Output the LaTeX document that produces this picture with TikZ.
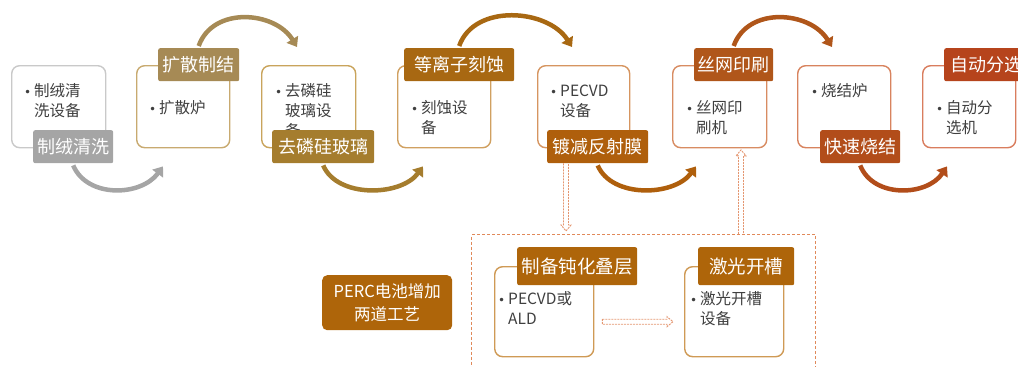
\documentclass[tikz,border=0pt]{standalone}
\usepackage{fontspec}
\setmainfont{Noto Sans CJK SC}
\newfontfamily\dejavu{DejaVu Sans}
\usetikzlibrary{arrows.meta,calc}
\definecolor{textgray}{HTML}{3F3F3F}
\definecolor{c1l}{HTML}{A5A5A5}\definecolor{c1b}{HTML}{C9C9C9}
\definecolor{c2l}{HTML}{A68A55}\definecolor{c2b}{HTML}{C8AA70}
\definecolor{c3l}{HTML}{A57D2E}\definecolor{c3b}{HTML}{C9A45C}
\definecolor{c4l}{HTML}{A86812}\definecolor{c4b}{HTML}{D0A060}
\definecolor{c5l}{HTML}{AF5F0C}\definecolor{c5b}{HTML}{D69560}
\definecolor{c6l}{HTML}{B0561A}\definecolor{c6b}{HTML}{D88C62}
\definecolor{c7l}{HTML}{B24D1A}\definecolor{c7b}{HTML}{D8835E}
\definecolor{c8l}{HTML}{B6441C}\definecolor{c8b}{HTML}{D97D5E}
\definecolor{cpl}{HTML}{AE650A}\definecolor{cpb}{HTML}{CF9A55}
\definecolor{cdash}{HTML}{E0895A}\definecolor{cdarr}{HTML}{E49670}
\newcommand{\mybul}{\makebox[10pt][l]{\dejavu\fontsize{12}{12}\selectfont •}}
\newcommand{\myind}{\hspace*{10pt}}
\begin{document}
\begin{tikzpicture}[x=1pt,y=-1pt,
  box/.style={draw, line width=1.4pt, rounded corners=8pt, fill=white, anchor=north west, inner sep=0pt, minimum height=82pt},
  ibox/.style={box, draw=cpb, minimum width=99pt, minimum height=90pt},
  lab/.style={anchor=north west, inner sep=0pt, text=white, rounded corners=2pt, font=\fontsize{18}{20}\selectfont, minimum height=33pt},
  ilab/.style={lab, fill=cpl, minimum height=38pt, font=\fontsize{18.5}{20}\selectfont},
  txt/.style={anchor=base west, align=left, inner sep=0pt, text=textgray, font=\fontsize{15.5}{20}\selectfont},
  arr/.style={line width=4.5pt, -{Triangle[length=9pt,width=13pt]}},
  darr/.style={draw=cdarr, line width=0.9pt, dash pattern=on 2pt off 1pt, line join=miter},
]
\useasboundingbox (0,0) rectangle (1018,367);
\clip (0,0) rectangle (1018,367);

% boxes
\node[box, draw=c1b, minimum width=94pt] (b1) at (11,65) {};
\node[box, draw=c2b, minimum width=93pt] (b2) at (136,65) {};
\node[box, draw=c3b, minimum width=94pt] (b3) at (261,65) {};
\node[box, draw=c4b, minimum width=93pt] (b4) at (397,65) {};
\node[box, draw=c5b, minimum width=92pt] (b5) at (537,65) {};
\node[box, draw=c6b, minimum width=94pt] (b6) at (672,65) {};
\node[box, draw=c7b, minimum width=93pt] (b7) at (797,65) {};
\node[box, draw=c8b, minimum width=93pt] (b8) at (922,65) {};

% texts (anchor = baseline of the last line)
\node[txt] (t1) at (24,116) {\mybul 制绒清\\\myind 洗设备};
\node[txt] (t2) at (149,113) {\mybul 扩散炉};
\node[txt] (t3) at (275,136) {\mybul 去磷硅\\\myind 玻璃设\\\myind 备};
\node[txt] (t4) at (411,133) {\mybul 刻蚀设\\\myind 备};
\node[txt] (t5) at (550,116) {\mybul PECVD\\\myind 设备};
\node[txt] (t6) at (686,133) {\mybul 丝网印\\\myind 刷机};
\node[txt] (t7) at (811,96) {\mybul 烧结炉};
\node[txt] (t8) at (936,133) {\mybul 自动分\\\myind 选机};

% labels
\node[lab, fill=c1l, minimum width=80pt] (l1) at (33,130) {制绒清洗};
\node[lab, fill=c2l, minimum width=81pt] (l2) at (158,48) {扩散制结};
\node[lab, fill=c3l, minimum width=102pt] (l3) at (272,130) {去磷硅玻璃};
\node[lab, fill=c4l, minimum width=110pt] (l4) at (404,48) {等离子刻蚀};
\node[lab, fill=c5l, minimum width=101pt] (l5) at (547,130) {镀减反射膜};
\node[lab, fill=c6l, minimum width=79pt] (l6) at (694,48) {丝网印刷};
\node[lab, fill=c7l, minimum width=80pt] (l7) at (820,130) {快速烧结};
\node[lab, fill=c8l, minimum width=84pt] (l8) at (944,48) {自动分选};

% curved arrows
\draw[arr, draw=c1l] ($(l1.south)+(0,2)$) .. controls +(14,33) and +(-22,30) .. ($(b2.south west)+(27,18)$);
\draw[arr, draw=c2l] ($(l2.north)+(0,-2)$) .. controls +(14,-40) and +(-22,-36) .. ($(b3.north west)+(36,-18)$);
\draw[arr, draw=c3l] ($(l3.south)+(0,2)$) .. controls +(14,33) and +(-22,30) .. ($(b4.south west)+(26,18)$);
\draw[arr, draw=c4l] ($(l4.north)+(0,-2)$) .. controls +(15,-43) and +(-24,-38) .. ($(b5.north west)+(35,-18)$);
\draw[arr, draw=c5l] ($(l5.south)+(0,2)$) .. controls +(14,33) and +(-22,30) .. ($(b6.south west)+(24,18)$);
\draw[arr, draw=c6l] ($(l6.north)+(0,-2)$) .. controls +(14,-40) and +(-22,-36) .. ($(b7.north west)+(35,-18)$);
\draw[arr, draw=c7l] ($(l7.south)+(0,2)$) .. controls +(13,33) and +(-20,30) .. ($(b8.south west)+(25,18)$);

% PERC part
\node[anchor=north west, draw=cdash, line width=1.2pt, dash pattern=on 3pt off 2pt, minimum width=344pt, minimum height=160pt, inner sep=0pt] (perc) at (471,234) {};
\node[anchor=north west, fill=cpl, rounded corners=5pt, minimum width=130pt, minimum height=55pt, inner sep=0pt, text=white, align=center, font=\fontsize{16.5}{23}\selectfont] (pl) at (322,275) {PERC电池增加\\两道工艺};

\node[ibox] (bA) at (494,266) {};
\node[ibox] (bB) at (684,266) {};
\node[txt] (tA) at (498,324) {\mybul PECVD或\\\myind ALD};
\node[txt] (tB) at (690,324) {\mybul 激光开槽\\\myind 设备};
\node[ilab, minimum width=120pt] (lA) at (517,247) {制备钝化叠层};
\node[ilab, minimum width=96pt] (lB) at (698,247) {激光开槽};

% dashed hollow arrows
\coordinate (d1s) at ($(l5.south west)+(19,0)$);
\coordinate (d1e) at ($(d1s |- perc.north)+(0,-3)$);
\draw[darr] ($(d1s)+(-2.5,0)$) -- ($(d1e)+(-2.5,-6)$) -- ($(d1e)+(-5,-6)$) -- (d1e) -- ($(d1e)+(5,-6)$) -- ($(d1e)+(2.5,-6)$) -- ($(d1s)+(2.5,0)$);
\coordinate (d2e) at ($(b6.south west)+(69,1.5)$);
\coordinate (d2s) at (d2e |- perc.north);
\draw[darr] ($(d2s)+(-2.5,0)$) -- ($(d2e)+(-2.5,6)$) -- ($(d2e)+(-5,6)$) -- (d2e) -- ($(d2e)+(5,6)$) -- ($(d2e)+(2.5,6)$) -- ($(d2s)+(2.5,0)$);
\coordinate (d3s) at ($(bA.east)+(8,10)$);
\coordinate (d3e) at ($(bB.west)+(-11,10)$);
\draw[darr] ($(d3s)+(0,-2.5)$) -- ($(d3e)+(-6,-2.5)$) -- ($(d3e)+(-6,-5)$) -- (d3e) -- ($(d3e)+(-6,5)$) -- ($(d3e)+(-6,2.5)$) -- ($(d3s)+(0,2.5)$) -- cycle;
\end{tikzpicture}
\end{document}
